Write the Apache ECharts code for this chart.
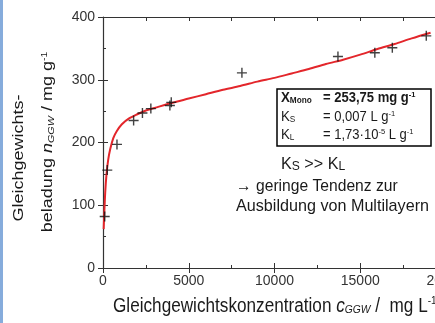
<!DOCTYPE html>
<html>
<head>
<meta charset="utf-8">
<script src="https://cdn.jsdelivr.net/npm/echarts@6/dist/echarts.min.js"></script>
<style>
  html, body { margin: 0; padding: 0; background: #fff; }
  #showIsotherm { width: 435px; height: 323px; }
</style>
</head>
<body>
<div id="showIsotherm"></div>
<script>
// Messpunkte
var messC = [100, 250, 815, 1785, 2300, 2790, 3900, 3980, 8100, 13700, 15850, 16870, 18850];
var messN = [82, 156, 197, 235, 247, 254, 259, 264, 311, 337, 343, 351, 370];

// Fit-Kurve
var fitC = [40, 80, 130, 200, 300, 425, 600, 800, 1100, 1500, 2000, 2500, 3000, 4000, 5000,
            6000, 7000, 8000, 9000, 10000, 11000, 12000, 13000, 14000, 15000, 16000, 17000, 18000, 19100];
var fitN = [62, 91, 121, 148, 172, 190, 207, 218, 229, 238, 245, 251, 255, 263, 270,
            277, 284, 290, 297, 303, 310, 317, 325, 332, 340, 349, 357, 366, 375];

var xTicks = [0, 5000, 10000, 15000, 20000];
var yTicks = [0, 100, 200, 300, 400];

function pairs(a, b) {
    var out = [];
    for (var i = 0; i < a.length; i++) out.push([a[i], b[i]]);
    return out;
}

function showIsotherm() {
    var dom = document.getElementById("showIsotherm");
    var myChart = echarts.init(dom);
    var ff = 'Liberation Sans, Arial, sans-serif';
    var txt = '#1a1a1a';

    function label(text, x, y, size, opt) {
        opt = opt || {};
        return {
            type: 'text',
            x: x, y: y,
            rotation: opt.rotation || 0,
            scaleX: opt.scaleX || 1,
            scaleY: opt.scaleY || 1,
            z: 100,
            style: {
                text: text,
                fill: txt,
                font: (opt.bold ? 'bold ' : '') + size + 'px ' + ff,
                align: opt.align || 'left',
                verticalAlign: 'middle',
                textAlign: opt.align || 'left',
                textVerticalAlign: 'middle',
                rich: opt.rich || {}
            }
        };
    }

    function richSet(size, bold, subSize) {
        var w = bold ? 'bold' : 'normal';
        var ss = subSize || 0.62;
        return {
            n: { fontSize: size, fontFamily: ff, fontWeight: w, color: txt, verticalAlign: 'bottom', lineHeight: size * 1.05 },
            it: { fontSize: size, fontFamily: ff, fontWeight: w, fontStyle: 'italic', color: txt, verticalAlign: 'bottom', lineHeight: size * 1.05 },
            sub: { fontSize: size * 0.6, fontFamily: ff, fontWeight: w, fontStyle: 'italic', color: txt, verticalAlign: 'bottom', lineHeight: size * 0.5 },
            subn: { fontSize: size * ss, fontFamily: ff, fontWeight: w, color: txt, verticalAlign: 'bottom', lineHeight: size * ss * 1.1 },
            sup: { fontSize: size * 0.58, fontFamily: ff, fontWeight: w, color: txt, verticalAlign: 'top', lineHeight: size * 0.75 }
        };
    }

    var tickStyle = { color: '#333', width: 1 };
    var plainNum = function (v) { return String(v); };

    option = {
        animation: false,
        backgroundColor: '#fff',
        grid: { left: 103, top: 17, right: -11, bottom: 55, outerBoundsMode: 'none', containLabel: false },
        xAxis: [{
            type: 'value', position: 'bottom',
            min: xTicks[0], max: xTicks[xTicks.length - 1], interval: 5000,
            axisLine: { lineStyle: { color: '#333', width: 1.2 } },
            axisTick: { inside: false, length: 5, lineStyle: tickStyle },
            axisLabel: { color: '#333', fontSize: 14, fontFamily: ff, margin: 6, formatter: plainNum },
            splitLine: { show: false }
        }, {
            type: 'value', position: 'bottom',
            min: xTicks[0], max: xTicks[xTicks.length - 1], interval: 5000,
            axisLine: { show: false },
            axisTick: { inside: true, length: 5, lineStyle: tickStyle },
            minorTick: { show: true, splitNumber: 2, length: 3, lineStyle: tickStyle },
            axisLabel: { show: false },
            splitLine: { show: false }
        }, {
            type: 'value', position: 'top',
            min: xTicks[0], max: xTicks[xTicks.length - 1], interval: 2500,
            axisLine: { lineStyle: { color: '#333', width: 1.2 } },
            axisTick: { inside: true, length: 4, lineStyle: tickStyle },
            axisLabel: { show: false },
            splitLine: { show: false }
        }],
        yAxis: [{
            type: 'value', position: 'left',
            min: yTicks[0], max: yTicks[yTicks.length - 1], interval: 100,
            axisLine: { show: true, lineStyle: { color: '#333', width: 1.2 } },
            axisTick: { show: true, inside: false, length: 5, lineStyle: tickStyle },
            axisLabel: { color: '#333', fontSize: 14, fontFamily: ff, margin: 8, formatter: plainNum },
            splitLine: { show: false }
        }, {
            type: 'value', position: 'left',
            min: yTicks[0], max: yTicks[yTicks.length - 1], interval: 100,
            axisLine: { show: false },
            axisTick: { show: true, inside: true, length: 5, lineStyle: tickStyle },
            minorTick: { show: true, splitNumber: 2, length: 3, lineStyle: tickStyle },
            axisLabel: { show: false },
            splitLine: { show: false }
        }],
        series: [{
            name: 'Fit',
            type: 'line',
            data: pairs(fitC, fitN),
            showSymbol: false,
            smooth: 0.3,
            lineStyle: { color: '#e3262b', width: 2 },
            z: 3
        }, {
            name: 'Messung',
            type: 'scatter',
            data: pairs(messC, messN),
            symbol: 'path://M4.3,0H5.7V4.3H10V5.7H5.7V10H4.3V5.7H0V4.3H4.3Z',
            symbolSize: 10,
            itemStyle: { color: '#111' },
            z: 4
        }],
        graphic: [
            { type: 'rect', shape: { x: 0, y: 0, width: 3, height: 323 }, style: { fill: '#86acdc' }, z: 100 },
            // y-Achsentitel
            label('Gleichgewichts-', 19, 158, 18, { rotation: Math.PI / 2, align: 'center', scaleY: 0.82 }),
            label('{n|beladung }{it|n}{sub|GGW}{n| / mg g}{sup|-1}', 48, 142, 18,
                { rotation: Math.PI / 2, align: 'center', scaleY: 0.82, rich: richSet(18, false) }),
            // x-Achsentitel
            label('{n|Gleichgewichtskonzentration }{it|c}{sub|GGW}{n| /  mg L}{sup|-1}', 113, 306, 19.5,
                { scaleX: 0.88, rich: richSet(19.5, false) }),
            // Parameterkasten
            { type: 'rect', shape: { x: 277, y: 89, width: 154, height: 57 },
              style: { fill: '#fff', stroke: '#000', lineWidth: 1.5 }, z: 90 },
            label('{n|X}{subn|Mono}', 281, 98, 14, { bold: true, scaleX: 0.95, rich: richSet(14, true) }),
            label('{n|= 253,75 mg g}{sup|-1}', 323, 98, 14, { bold: true, scaleX: 0.93, rich: richSet(14, true) }),
            label('{n|K}{subn|S}', 281, 117, 14, { scaleX: 0.95, rich: richSet(14, false) }),
            label('{n|= 0,007 L g}{sup|-1}', 323, 117, 14, { scaleX: 0.93, rich: richSet(14, false) }),
            label('{n|K}{subn|L}', 281, 135, 14, { scaleX: 0.95, rich: richSet(14, false) }),
            label('{n|= 1,73·10}{sup|-5}{n| L g}{sup|-1}', 323, 135, 14, { scaleX: 0.93, rich: richSet(14, false) }),
            // Kommentar
            label('{n|K}{subn|S}{n| >> K}{subn|L}', 281, 164, 17, { scaleX: 0.95, rich: richSet(17, false, 0.75) }),
            label('→ geringe Tendenz zur', 236, 186, 17, { scaleX: 0.92 }),
            label('Ausbildung von Multilayern', 236, 206, 17, { scaleX: 0.95 })
        ]
    };

    if (option && typeof option === "object") {
        myChart.setOption(option, true);
    }

    window.addEventListener("resize", function () {
        myChart.resize();
    });
}

showIsotherm();
</script>
</body>
</html>
